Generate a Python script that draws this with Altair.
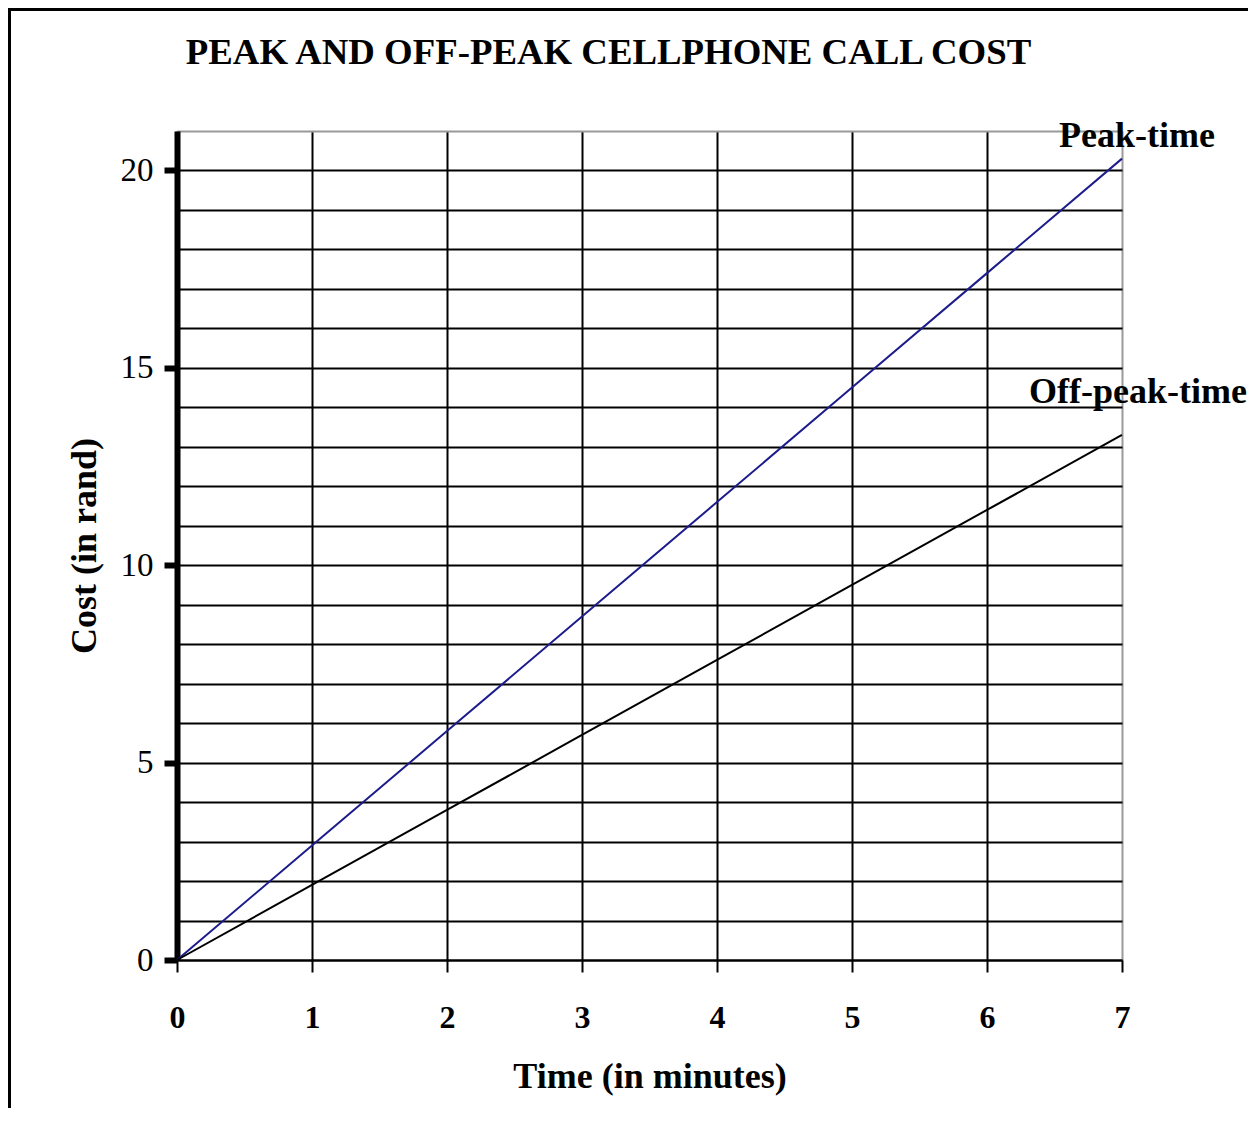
import altair as alt
import pandas as pd

# Data
time = [0, 1, 2, 3, 4, 5, 6, 7]
peak = [0, 2.9, 5.8, 8.7, 11.6, 14.5, 17.4, 20.3]
offpeak = [0, 1.9, 3.8, 5.7, 7.6, 9.5, 11.4, 13.3]
series_names = ["Peak-time", "Off-peak-time"]
x_ticks = [0, 1, 2, 3, 4, 5, 6, 7]
y_ticks = list(range(0, 22))

FONT = "Liberation Serif"

df = pd.DataFrame({
    "time": time + time,
    "cost": peak + offpeak,
    "series": [series_names[0]] * len(time) + [series_names[1]] * len(time),
})

x_axis = alt.Axis(
    values=x_ticks, tickCount=len(x_ticks), format="d", title="Time (in minutes)", grid=True,
    gridColor={"condition": {"test": "datum.value === 7", "value": "#9a9a9a"}, "value": "black"},
    gridWidth=2, domainColor="black", domainWidth=2,
    tickColor="black", tickWidth=2, tickSize=12,
    labelFont=FONT, labelFontSize=32, labelFontWeight="bold", labelColor="black",
    labelPadding=30, labelFlush=False, labelOverlap=False,
    titleFont=FONT, titleFontSize=36, titleFontWeight="bold", titleColor="black",
    titleBaseline="alphabetic", titleY=127,
)

y_axis = alt.Axis(
    values=y_ticks, tickCount=len(y_ticks), format="d", title="Cost (in rand)", grid=True,
    gridColor={"condition": {"test": "datum.value === 21", "value": "#9a9a9a"}, "value": "black"},
    gridWidth=2, domainColor="black", domainWidth=6,
    tickColor="black", tickWidth=6, tickSize=13,
    tickOpacity={"condition": {"test": "datum.value % 5 === 0", "value": 1}, "value": 0},
    labelExpr="datum.value % 5 === 0 ? datum.label : ''",
    labelFont=FONT, labelFontSize=33, labelFontWeight="normal", labelColor="black",
    labelPadding=11, labelFlush=False, labelOverlap=False,
    titleFont=FONT, titleFontSize=36, titleFontWeight="bold", titleColor="black",
    titleAngle=270, titleBaseline="alphabetic", titleAlign="center",
    titleX=-82, titleY=414.5,
)

X = alt.X("time:Q", scale=alt.Scale(domain=[0, 7], nice=False), axis=x_axis)
Y = alt.Y("cost:Q", scale=alt.Scale(domain=[0, 21], nice=False), axis=y_axis)

lines = alt.Chart(df).mark_line(strokeWidth=2).encode(
    x=X, y=Y,
    color=alt.Color("series:N", scale=alt.Scale(domain=series_names, range=["#1c1c8c", "black"]), legend=None),
    detail="series:N",
)

peak_lbl = alt.Chart(pd.DataFrame({"time": [time[-1]], "cost": [peak[-1]], "series": [series_names[0]]})).mark_text(
    font=FONT, fontSize=36, fontWeight="bold", color="black", align="center", baseline="alphabetic", dx=15, dy=-12
).encode(x=X, y=Y, text="series:N")

off_lbl = alt.Chart(pd.DataFrame({"time": [time[-1]], "cost": [offpeak[-1]], "series": [series_names[1]]})).mark_text(
    font=FONT, fontSize=36, fontWeight="bold", color="black", align="center", baseline="alphabetic", dx=16, dy=-32
).encode(x=X, y=Y, text="series:N")

dummy = pd.DataFrame({"a": [0]})
frame_left = alt.Chart(dummy).mark_rule(color="black", strokeWidth=3).encode(
    x=alt.value(-167.5), y=alt.value(-121.5), y2=alt.value(977)
)
frame_top = alt.Chart(dummy).mark_rule(color="black", strokeWidth=3).encode(
    x=alt.value(-169), x2=alt.value(1071), y=alt.value(-121.5)
)

chart = alt.layer(lines, peak_lbl, off_lbl, frame_left, frame_top).properties(
    width=945, height=829,
    autosize=alt.AutoSizeParams(type="none"),
    padding={"left": 169, "top": 123, "right": 126, "bottom": 148},
    title=alt.TitleParams(
        "PEAK AND OFF-PEAK CELLPHONE CALL COST", font=FONT, fontSize=36.8, fontWeight="bold",
        color="black", anchor="middle", frame="group", baseline="alphabetic", offset=0, dx=-41, dy=93,
    ),
).configure_view(stroke=None).configure(background="white")

chart.save("out.html", embed_options={"renderer": "svg", "actions": False})
